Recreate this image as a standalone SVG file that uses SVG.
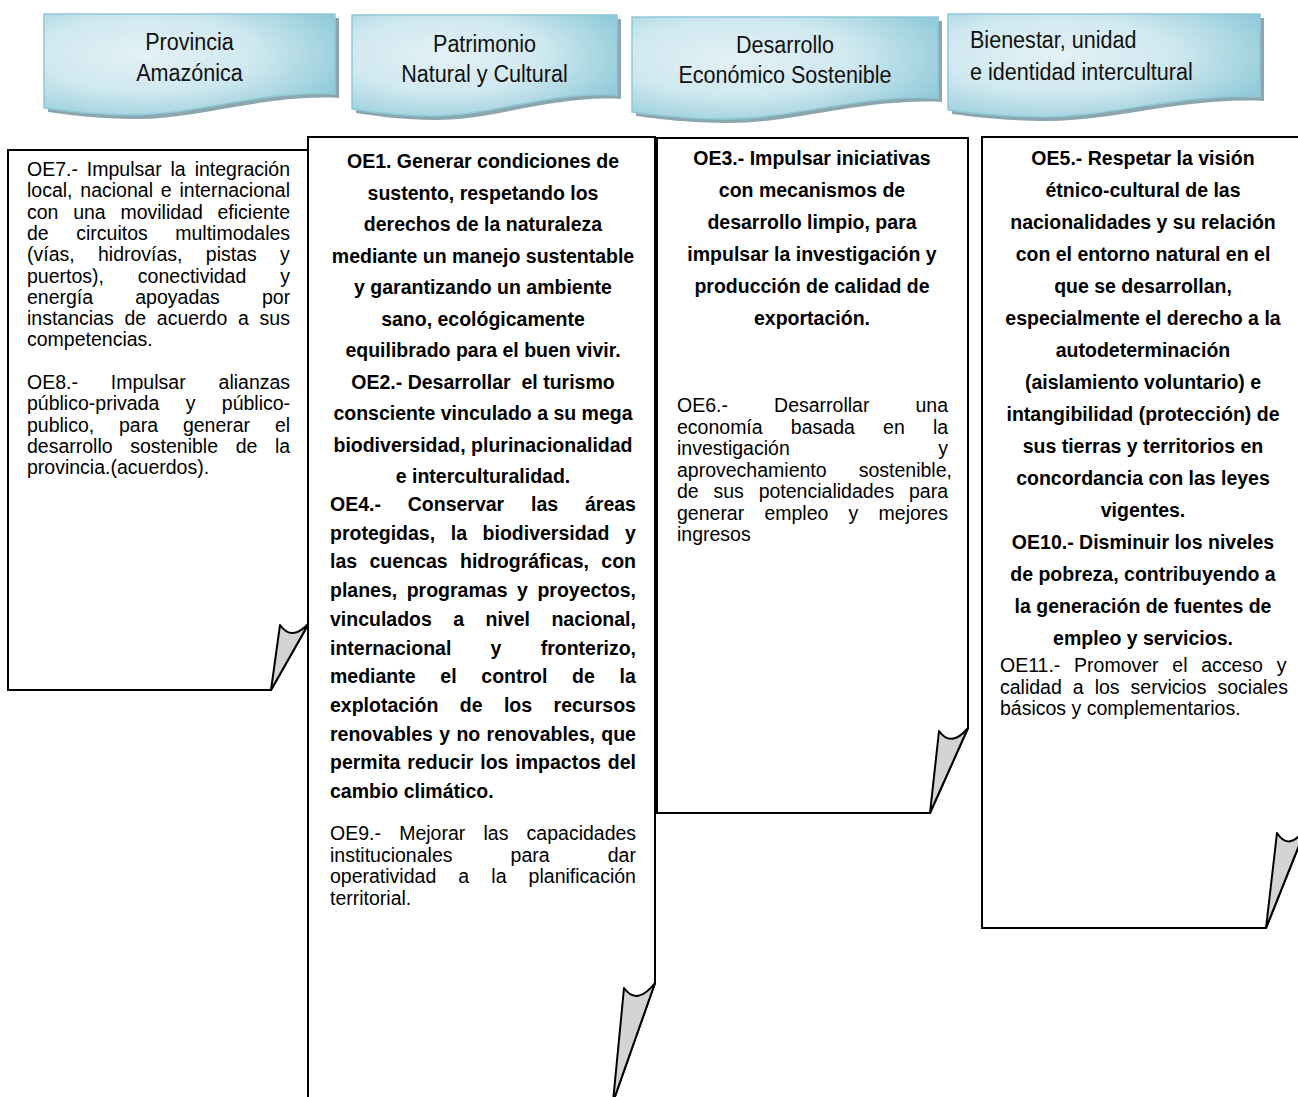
<svg xmlns="http://www.w3.org/2000/svg" width="1298" height="1097" viewBox="0 0 1298 1097">
<defs>
<radialGradient id="tabGrad" cx="0.35" cy="0.4" r="0.75">
<stop offset="0" stop-color="#e3f2f6"/>
<stop offset="0.5" stop-color="#cfe8ef"/>
<stop offset="1" stop-color="#8ec9d8"/>
</radialGradient>
<style>
.tab{fill:url(#tabGrad);stroke:#8fc9d7;stroke-width:1.5}
.shadow{fill:#8ba6ae}
.tt{font-family:"Liberation Sans",Arial,sans-serif;font-size:24.5px;fill:#111}
.box{fill:#fff;stroke:#000;stroke-width:2;stroke-linejoin:miter}
.flap{fill:#d4d4d4;stroke:#000;stroke-width:2;stroke-linejoin:round}
.r{font-family:"Liberation Sans",Arial,sans-serif;font-size:19.5px;fill:#000}
.b{font-family:"Liberation Sans",Arial,sans-serif;font-size:19.5px;font-weight:bold;fill:#000}
.c{text-anchor:middle}
</style>
</defs>
<rect width="1298" height="1097" fill="#fff"/>

<g id="tab1">
<path class="shadow" d="M48,18 H339 V98 C266,94 199,119 137,119 C98,119 70,115 48,112 Z"/>
<path class="tab" d="M44,14 H335 V94 C262,90 195,115 133,115 C94,115 66,111 44,108 Z"/>
<text class="tt c" transform="translate(189.5,50) scale(0.88,1)">Provincia</text>
<text class="tt c" transform="translate(189.5,81) scale(0.88,1)">Amazónica</text>
</g>
<g id="tab2">
<path class="shadow" d="M356,19 H621 V99 C555,95 494,120 437,120 C402,120 376,116 356,113 Z"/>
<path class="tab" d="M352,15 H617 V95 C551,91 490,116 433,116 C398,116 372,112 352,109 Z"/>
<text class="tt c" transform="translate(484.5,52) scale(0.88,1)">Patrimonio</text>
<text class="tt c" transform="translate(484.5,82) scale(0.88,1)">Natural y Cultural</text>
</g>
<g id="tab3">
<path class="shadow" d="M636,21 H942 V102 C866,98 795,123 730,123 C689,123 659,119 636,116 Z"/>
<path class="tab" d="M632,17 H938 V98 C862,94 791,119 726,119 C685,119 655,115 632,112 Z"/>
<text class="tt c" transform="translate(785,53) scale(0.88,1)">Desarrollo</text>
<text class="tt c" transform="translate(785,83) scale(0.88,1)">Económico Sostenible</text>
</g>
<g id="tab4">
<path class="shadow" d="M952,18 H1264 V101 C1186,97 1114,121 1048,121 C1006,121 975,117 952,114 Z"/>
<path class="tab" d="M948,14 H1260 V97 C1182,93 1110,117 1044,117 C1002,117 971,113 948,110 Z"/>
<text class="tt" transform="translate(970,48) scale(0.88,1)">Bienestar, unidad</text>
<text class="tt" transform="translate(970,80) scale(0.88,1)">e identidad intercultural</text>
</g>

<g id="box1">
<path class="box" d="M8,150 H309 V623 L271,690 H8 Z"/>
<path class="flap" d="M280,625 Q292,642 309,623 L271,690 Z"/>
<text class="r" x="27" y="176" style="word-spacing:3.5px">OE7.- Impulsar la integración</text>
<text class="r" x="27" y="197.3" style="word-spacing:2.4px">local, nacional e internacional</text>
<text class="r" x="27" y="218.6" style="word-spacing:9.3px">con una movilidad eficiente</text>
<text class="r" x="27" y="239.9" style="word-spacing:22.1px">de circuitos multimodales</text>
<text class="r" x="27" y="261.2" style="word-spacing:17.9px">(vías, hidrovías, pistas y</text>
<text class="r" x="27" y="282.5" style="word-spacing:28.5px">puertos), conectividad y</text>
<text class="r" x="27" y="303.8" style="word-spacing:36.7px">energía apoyadas por</text>
<text class="r" x="27" y="325.1" style="word-spacing:5.3px">instancias de acuerdo a sus</text>
<text class="r" x="27" y="346.4">competencias.</text>
<text class="r" x="27" y="389" style="word-spacing:27.5px">OE8.- Impulsar alianzas</text>
<text class="r" x="27" y="410.3" style="word-spacing:21px">público-privada y público-</text>
<text class="r" x="27" y="431.6" style="word-spacing:19.4px">publico, para generar el</text>
<text class="r" x="27" y="452.9" style="word-spacing:12.2px">desarrollo sostenible de la</text>
<text class="r" x="27" y="474.2">provincia.(acuerdos).</text>
</g>

<g id="box2">
<path class="box" d="M308,137 H655 V983 L613,1102 H308 Z"/>
<path class="flap" d="M624,988 Q637,1006 655,983 L613,1102 Z"/>
<text class="b c" x="483" y="168">OE1. Generar condiciones de</text>
<text class="b c" x="483" y="199.5">sustento, respetando los</text>
<text class="b c" x="483" y="231">derechos de la naturaleza</text>
<text class="b c" x="483" y="262.5">mediante un manejo sustentable</text>
<text class="b c" x="483" y="294">y garantizando un ambiente</text>
<text class="b c" x="483" y="325.5">sano, ecológicamente</text>
<text class="b c" x="483" y="357">equilibrado para el buen vivir.</text>
<text class="b c" x="483" y="388.5">OE2.- Desarrollar&#160; el turismo</text>
<text class="b c" x="483" y="420">consciente vinculado a su mega</text>
<text class="b c" x="483" y="451.5">biodiversidad, plurinacionalidad</text>
<text class="b c" x="483" y="483">e interculturalidad.</text>
<text class="b" x="330" y="511" style="word-spacing:21.4px">OE4.- Conservar las áreas</text>
<text class="b" x="330" y="539.7" style="word-spacing:10.2px">protegidas, la biodiversidad y</text>
<text class="b" x="330" y="568.4" style="word-spacing:7px">las cuencas hidrográficas, con</text>
<text class="b" x="330" y="597.1" style="word-spacing:4.1px">planes, programas y proyectos,</text>
<text class="b" x="330" y="625.8" style="word-spacing:16px">vinculados a nivel nacional,</text>
<text class="b" x="330" y="654.5" style="word-spacing:33.8px">internacional y fronterizo,</text>
<text class="b" x="330" y="683.2" style="word-spacing:19.3px">mediante el control de la</text>
<text class="b" x="330" y="711.9" style="word-spacing:16px">explotación de los recursos</text>
<text class="b" x="330" y="740.6" style="word-spacing:0.9px">renovables y no renovables, que</text>
<text class="b" x="330" y="769.3" style="word-spacing:1.45px">permita reducir los impactos del</text>
<text class="b" x="330" y="798">cambio climático.</text>
<text class="r" x="330" y="840" style="word-spacing:12.8px">OE9.- Mejorar las capacidades</text>
<text class="r" x="330" y="861.5" style="word-spacing:52.7px">institucionales para dar</text>
<text class="r" x="330" y="883" style="word-spacing:16.7px">operatividad a la planificación</text>
<text class="r" x="330" y="904.5">territorial.</text>
</g>

<g id="box3">
<path class="box" d="M657,138 H968 V728 L930,813 H657 Z"/>
<path class="flap" d="M939,731 Q951,748 968,728 L930,813 Z"/>
<text class="b c" x="812" y="165">OE3.- Impulsar iniciativas</text>
<text class="b c" x="812" y="197">con mecanismos de</text>
<text class="b c" x="812" y="229">desarrollo limpio, para</text>
<text class="b c" x="812" y="261">impulsar la investigación y</text>
<text class="b c" x="812" y="293">producción de calidad de</text>
<text class="b c" x="812" y="325">exportación.</text>
<text class="r" x="677" y="412" style="word-spacing:40.7px">OE6.- Desarrollar una</text>
<text class="r" x="677" y="433.5" style="word-spacing:22.8px">economía basada en la</text>
<text class="r" x="677" y="455" style="word-spacing:143.1px">investigación y</text>
<text class="r" x="677" y="476.5" style="word-spacing:26.7px">aprovechamiento sostenible,</text>
<text class="r" x="677" y="498" style="word-spacing:9.4px">de sus potencialidades para</text>
<text class="r" x="677" y="519.5" style="word-spacing:14.8px">generar empleo y mejores</text>
<text class="r" x="677" y="541">ingresos</text>
</g>

<g id="box4">
<path class="box" d="M982,137 H1306 V828 L1266,928 H982 Z"/>
<path class="flap" d="M1277,833 Q1289,852 1306,828 L1266,928 Z"/>
<text class="b c" x="1143" y="165">OE5.- Respetar la visión</text>
<text class="b c" x="1143" y="197">étnico-cultural de las</text>
<text class="b c" x="1143" y="229">nacionalidades y su relación</text>
<text class="b c" x="1143" y="261">con el entorno natural en el</text>
<text class="b c" x="1143" y="293">que se desarrollan,</text>
<text class="b c" x="1143" y="325">especialmente el derecho a la</text>
<text class="b c" x="1143" y="357">autodeterminación</text>
<text class="b c" x="1143" y="389">(aislamiento voluntario) e</text>
<text class="b c" x="1143" y="421">intangibilidad (protección) de</text>
<text class="b c" x="1143" y="453">sus tierras y territorios en</text>
<text class="b c" x="1143" y="485">concordancia con las leyes</text>
<text class="b c" x="1143" y="517">vigentes.</text>
<text class="b c" x="1143" y="549">OE10.- Disminuir los niveles</text>
<text class="b c" x="1143" y="581">de pobreza, contribuyendo a</text>
<text class="b c" x="1143" y="613">la generación de fuentes de</text>
<text class="b c" x="1143" y="645">empleo y servicios.</text>
<text class="r" x="1000" y="672" style="word-spacing:8.3px">OE11.- Promover el acceso y</text>
<text class="r" x="1000" y="693.5" style="word-spacing:5.6px">calidad a los servicios sociales</text>
<text class="r" x="1000" y="715">básicos y complementarios.</text>
</g>

<g id="connectors"/>
</svg>
